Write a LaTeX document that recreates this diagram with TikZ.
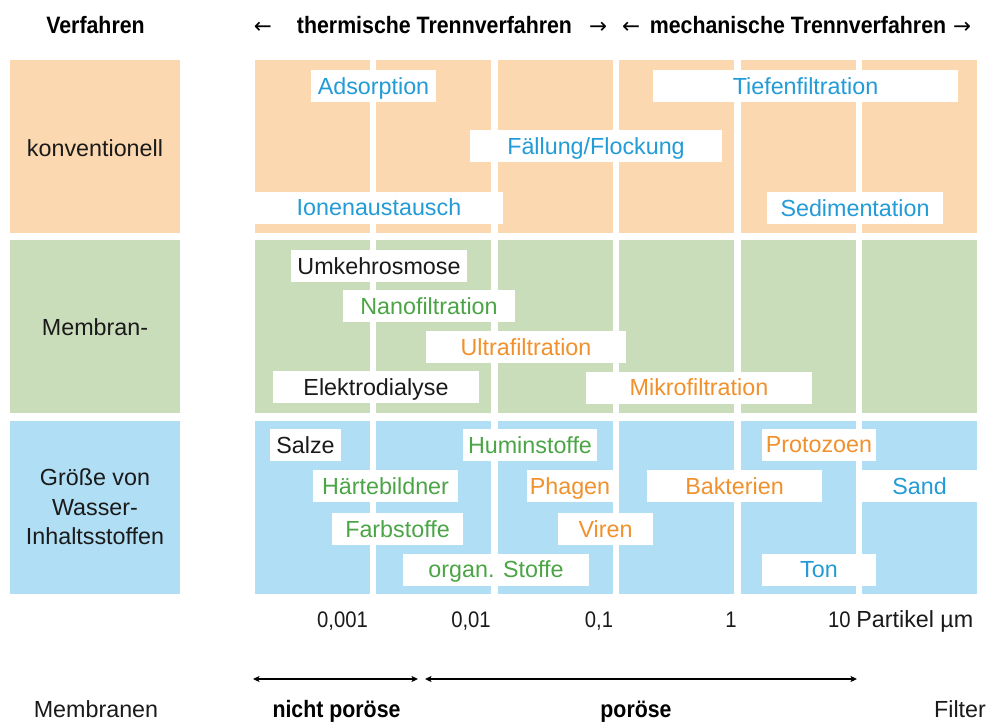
\documentclass[tikz,border=0pt]{standalone}
\usepackage{fontspec}
\setmainfont{Liberation Sans}
\newfontfamily\condf[FakeStretch=0.9]{Liberation Sans}
\newfontfamily\arrowf{DejaVu Sans}
\usetikzlibrary{arrows.meta}
\definecolor{peach}{HTML}{FBD8B0}
\definecolor{mgreen}{HTML}{CADDBB}
\definecolor{sblue}{HTML}{B0DEF5}
\definecolor{tblue}{HTML}{239BD7}
\definecolor{tgreen}{HTML}{4BA546}
\definecolor{torange}{HTML}{F0912D}
\definecolor{tblack}{HTML}{1A1A1A}
\begin{document}
\begin{tikzpicture}[x=1pt,y=-1pt,
  lbl/.style={fill=white, inner sep=0pt, minimum height=32pt, text height=16.7pt, text depth=0pt, font=\fontsize{23.3}{28}\selectfont},
  rowlbl/.style={inner sep=0pt, anchor=base, font=\fontsize{23.3}{29.5}\selectfont, text=tblack, align=center},
  head/.style={inner sep=0pt, anchor=base, text=black, font=\condf\bfseries\fontsize{23.7}{28}\selectfont},
  harrow/.style={inner sep=0pt, anchor=base, text=black, font=\arrowf\fontsize{21.5}{24}\selectfont},
  numlbl/.style={inner sep=0pt, anchor=base, text=tblack, font=\condf\fontsize{22.5}{26}\selectfont},
  botlbl/.style={inner sep=0pt, anchor=base, text=tblack, font=\fontsize{23.3}{28}\selectfont},
  dblarrow/.style={line width=1.3pt, {Stealth[length=6.5pt,width=6pt,inset=1.5pt]}-{Stealth[length=6.5pt,width=6pt,inset=1.5pt]}}
]
\path[use as bounding box] (0,0) rectangle (987,723);
\fill[white] (0,0) rectangle (987,723);

% left column boxes
\fill[peach] (10,60) rectangle (180,232.5);
\fill[mgreen] (10,240) rectangle (180,413);
\fill[sblue] (10,421) rectangle (180,594);

% grid columns
\foreach \i in {0,...,5}{
  \pgfmathsetmacro\xa{255+121.4*\i}
  \fill[peach] (\xa,60) rectangle ++(115,172.5);
  \fill[mgreen] (\xa,240) rectangle ++(115,173);
  \fill[sblue] (\xa,421) rectangle ++(115,173);
}

% header
\node[head] (verf) at (95.5,33) {Verfahren};
\node[harrow] (ha1) at (263,33) {←};
\node[head] (therm) at (434.5,33) {thermische Trennverfahren};
\node[harrow] (ha2) at (598,33) {→};
\node[harrow] (ha3) at (631,33) {←};
\node[head] (mech) at (798,33) {mechanische Trennverfahren};
\node[harrow] (ha4) at (962,33) {→};

% row labels
\node[rowlbl] (konv) at (95,156.4) {konventionell};
\node[rowlbl] (memb) at (95,335.4) {Membran-};
\node[rowlbl, anchor=center] (groe) at (95,507) {Größe von\\Wasser-\\Inhaltsstoffen};

% row 1
\node[lbl, minimum width=125, text=tblue] (ads) at (373.5,86) {Adsorption};
\node[lbl, minimum width=252, text=tblue] (fal) at (596,146) {Fällung/Flockung};
\node[lbl, minimum width=248, text=tblue] (ion) at (379,207.5) {Ionenaustausch};
\node[lbl, minimum width=305, text=tblue] (tief) at (805.5,86) {Tiefenfiltration};
\node[lbl, minimum width=176, text=tblue] (sed) at (855,208) {Sedimentation};

% row 2
\node[lbl, minimum width=176, text=tblack] (umk) at (379,266) {Umkehrosmose};
\node[lbl, minimum width=172, text=tgreen] (nano) at (429,306) {Nanofiltration};
\node[lbl, minimum width=200, text=torange] (ultra) at (526,347) {Ultrafiltration};
\node[lbl, minimum width=206, text=tblack] (elek) at (376,387) {Elektrodialyse};
\node[lbl, minimum width=226, text=torange] (mikro) at (699,387.5) {Mikrofiltration};

% row 3
\node[lbl, minimum width=71, text=tblack] (salze) at (305.5,445) {Salze};
\node[lbl, minimum width=134, text=tgreen] (humin) at (530,445) {Huminstoffe};
\node[lbl, minimum width=114, text=torange] (proto) at (819,444.5) {Protozoen};
\node[lbl, minimum width=145, text=tgreen] (haerte) at (385.5,486) {Härtebildner};
\node[lbl, minimum width=86, text=torange] (phagen) at (570,486) {Phagen};
\node[lbl, minimum width=175, text=torange] (bakt) at (734.5,486) {Bakterien};
\node[lbl, minimum width=115, text=tblue] (sand) at (919.5,486) {Sand};
\node[lbl, minimum width=131, text=tgreen] (farb) at (397.5,529) {Farbstoffe};
\node[lbl, minimum width=95, text=torange] (viren) at (605.5,529) {Viren};
\node[lbl, minimum width=186, text=tgreen] (organ) at (496,569.5) {organ. Stoffe};
\node[lbl, minimum width=114, text=tblue] (ton) at (819,569.5) {Ton};

% scale
\node[numlbl] (n1) at (342.5,627) {0,001};
\node[numlbl] (n2) at (471,627) {0,01};
\node[numlbl] (n3) at (599,627) {0,1};
\node[numlbl] (n4) at (731,627) {1};
\node[numlbl, anchor=base west] (n5) at (828,627) {10 {\setmainfont{Liberation Sans}\fontsize{23.3}{28}\selectfont Partikel µm}};

% arrows
\coordinate (a1) at (253,679);
\coordinate (a2) at (418,679);
\coordinate (b1) at (425,679);
\coordinate (b2) at (857,679);
\draw[dblarrow] (a1) -- (a2);
\draw[dblarrow] (b1) -- (b2);

% bottom labels
\node[botlbl] (mbr) at (96,717.5) {Membranen};
\node[head] (np) at (336.5,717) {nicht poröse};
\node[head] (por) at (636,717) {poröse};
\node[botlbl] (filt) at (960,717.5) {Filter};
\end{tikzpicture}
\end{document}
